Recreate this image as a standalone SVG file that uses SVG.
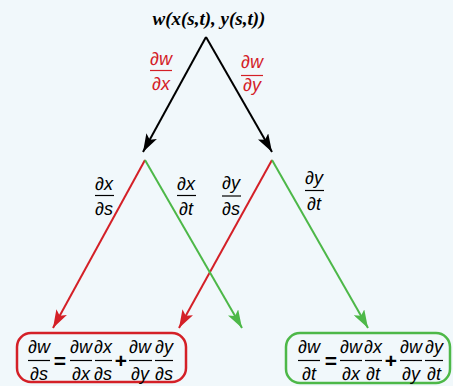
<svg xmlns="http://www.w3.org/2000/svg" width="453" height="386" viewBox="0 0 453 386">
<defs>
<style>
.f{font-family:"Liberation Sans",Arial,sans-serif;font-style:italic;font-size:18px;text-anchor:middle}
.op{font-family:"Liberation Sans",Arial,sans-serif;font-size:21px;font-weight:bold;text-anchor:middle}
.bar{stroke-width:1.2}
.k{fill:#000}.kb{stroke:#000}
.r{fill:#d42027}.rb{stroke:#d42027}
.ln{fill:none;stroke-width:2}
</style>
<marker id="ak" viewBox="0 0 18 12" refX="18" refY="6" markerWidth="18" markerHeight="12" markerUnits="userSpaceOnUse" orient="auto"><path d="M0,0 L18,6 L0,12 L4,6 Z" fill="#000"/></marker>
<marker id="ar" viewBox="0 0 18 12" refX="18" refY="6" markerWidth="18" markerHeight="12" markerUnits="userSpaceOnUse" orient="auto"><path d="M0,0 L18,6 L0,12 L4,6 Z" fill="#d42027"/></marker>
<marker id="ag" viewBox="0 0 18 12" refX="18" refY="6" markerWidth="18" markerHeight="12" markerUnits="userSpaceOnUse" orient="auto"><path d="M0,0 L18,6 L0,12 L4,6 Z" fill="#4db848"/></marker>
</defs>
<rect width="453" height="386" fill="#f1f8fb"/>
<g id="root">
<text x="209" y="25" font-family="'Liberation Serif','Times New Roman',serif" font-style="italic" font-weight="bold" font-size="19" text-anchor="middle">w(x(s,t), y(s,t))</text>
</g>
<g id="connectors">
<line x1="206" y1="37" x2="143" y2="152" class="ln" stroke="#000" marker-end="url(#ak)"/>
<line x1="206" y1="37" x2="272" y2="152" class="ln" stroke="#000" marker-end="url(#ak)"/>
<line x1="145" y1="160" x2="53" y2="328" class="ln" stroke="#d42027" marker-end="url(#ar)"/>
<line x1="272" y1="160" x2="179" y2="328" class="ln" stroke="#d42027" marker-end="url(#ar)"/>
<line x1="145" y1="160" x2="242" y2="328" class="ln" stroke="#4db848" marker-end="url(#ag)"/>
<line x1="272" y1="160" x2="368" y2="328" class="ln" stroke="#4db848" marker-end="url(#ag)"/>
</g>
<g id="edge-labels">
<g class="r"><text class="f" x="161" y="65">∂w</text><line x1="150" y1="70.5" x2="172" y2="70.5" class="bar rb"/><text class="f" x="161" y="90">∂x</text></g>
<g class="r"><text class="f" x="252" y="68">∂w</text><line x1="241" y1="75.5" x2="263" y2="75.5" class="bar rb"/><text class="f" x="252" y="91">∂y</text></g>
<g><text class="f" x="104" y="190">∂x</text><line x1="95" y1="195.5" x2="114" y2="195.5" class="bar kb"/><text class="f" x="104" y="215">∂s</text></g>
<g><text class="f" x="186" y="190">∂x</text><line x1="177" y1="195.5" x2="196" y2="195.5" class="bar kb"/><text class="f" x="186" y="215">∂t</text></g>
<g><text class="f" x="231" y="189">∂y</text><line x1="222" y1="196" x2="241" y2="196" class="bar kb"/><text class="f" x="231" y="215">∂s</text></g>
<g><text class="f" x="314" y="184">∂y</text><line x1="305" y1="190.5" x2="324" y2="190.5" class="bar kb"/><text class="f" x="314" y="210">∂t</text></g>
</g>
<g id="eq-s">
<rect x="17" y="333" width="169" height="49" rx="14" fill="none" stroke="#d42027" stroke-width="2.5"/>
<text class="f" x="39" y="353">∂w</text><line x1="28" y1="360.5" x2="50" y2="360.5" class="bar kb"/><text class="f" x="39" y="380">∂s</text>
<text class="op" x="60" y="368">=</text>
<text class="f" x="81" y="353">∂w</text><line x1="70" y1="360.5" x2="92" y2="360.5" class="bar kb"/><text class="f" x="81" y="380">∂x</text>
<text class="f" x="103" y="353">∂x</text><line x1="95" y1="360.5" x2="112" y2="360.5" class="bar kb"/><text class="f" x="103" y="380">∂s</text>
<text class="op" x="121" y="368">+</text>
<text class="f" x="140" y="353">∂w</text><line x1="129" y1="360.5" x2="152" y2="360.5" class="bar kb"/><text class="f" x="140" y="380">∂y</text>
<text class="f" x="164" y="353">∂y</text><line x1="155" y1="360.5" x2="173" y2="360.5" class="bar kb"/><text class="f" x="164" y="380">∂s</text>
</g>
<g id="eq-t">
<rect x="286" y="333" width="164" height="50" rx="14" fill="none" stroke="#4db848" stroke-width="2.5"/>
<text class="f" x="309" y="353">∂w</text><line x1="298" y1="360.5" x2="320" y2="360.5" class="bar kb"/><text class="f" x="309" y="380">∂t</text>
<text class="op" x="331" y="368">=</text>
<text class="f" x="351" y="353">∂w</text><line x1="340" y1="360.5" x2="362" y2="360.5" class="bar kb"/><text class="f" x="351" y="380">∂x</text>
<text class="f" x="373" y="353">∂x</text><line x1="365" y1="360.5" x2="382" y2="360.5" class="bar kb"/><text class="f" x="373" y="380">∂t</text>
<text class="op" x="391" y="368">+</text>
<text class="f" x="411" y="353">∂w</text><line x1="400" y1="360.5" x2="422" y2="360.5" class="bar kb"/><text class="f" x="411" y="380">∂y</text>
<text class="f" x="434" y="353">∂y</text><line x1="425" y1="360.5" x2="443" y2="360.5" class="bar kb"/><text class="f" x="434" y="380">∂t</text>
</g>
</svg>
